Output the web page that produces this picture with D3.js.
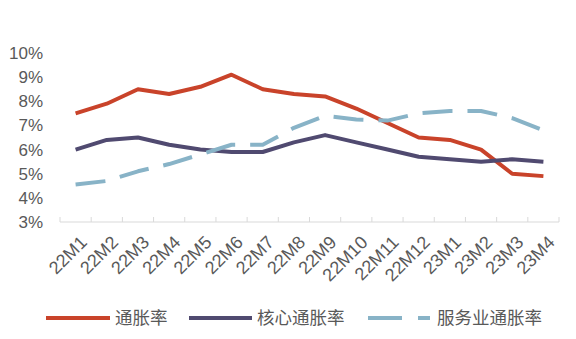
<!DOCTYPE html>
<html><head><meta charset="utf-8">
<script src="https://cdn.jsdelivr.net/npm/d3@7"></script>
<style>body{margin:0;background:#fff}text{font-family:"Liberation Sans",Arial,"Noto Sans CJK SC",sans-serif;fill:#595959}</style>
</head><body><svg id="c" width="576" height="339"></svg>
<script>
const categories=["22M1","22M2","22M3","22M4","22M5","22M6","22M7","22M8","22M9","22M10","22M11","22M12","23M1","23M2","23M3","23M4"];
const inflation=[7.5,7.9,8.5,8.3,8.6,9.1,8.5,8.3,8.2,7.7,7.1,6.5,6.4,6.0,5.0,4.9];
const core=[6.0,6.4,6.5,6.2,6.0,5.9,5.9,6.3,6.6,6.3,6.0,5.7,5.6,5.5,5.6,5.5];
const services=[4.55,4.7,5.1,5.4,5.8,6.2,6.2,6.9,7.4,7.25,7.2,7.5,7.6,7.6,7.3,6.8];
const yTicks=[3,4,5,6,7,8,9,10];
const seriesNames=["通胀率","核心通胀率","服务业通胀率"];
const colors=["#C9432A","#504A70","#88B3C7"];

const svg=d3.select("#c");
const x=d3.scaleBand().domain(categories).range([60,559]);
const y=d3.scaleLinear().domain([3,10]).range([222,53]);

// y labels
svg.append("g").selectAll("text").data(yTicks).join("text")
 .attr("x",43).attr("y",d=>y(d)).attr("dy","0.35em").attr("text-anchor","end")
 .style("font-size","17px").text(d=>d+"%");

// x axis
const ax=svg.append("g");
ax.append("line").attr("x1",60).attr("x2",559).attr("y1",222).attr("y2",222).attr("stroke","#d9d9d9").attr("stroke-width",1);
const tickPos=categories.map(c=>x(c)).concat([559]);
ax.selectAll(".tk").data(tickPos).join("line").attr("class","tk")
 .attr("x1",d=>d).attr("x2",d=>d).attr("y1",217).attr("y2",222).attr("stroke","#d9d9d9");
ax.selectAll(".lb").data(categories).join("text").attr("class","lb")
 .attr("transform",d=>`translate(${x(d)+x.bandwidth()/2+8},239) rotate(-45)`)
 .attr("text-anchor","end").attr("dy","0.35em").style("font-size","18px").text(d=>d);

const line=d3.line().x((d,i)=>x(categories[i])+x.bandwidth()/2).y(d=>y(d));
const data=[inflation,core,services];
data.forEach((s,k)=>{
  svg.append("path").attr("d",line(s)).attr("fill","none").attr("stroke",colors[k])
   .attr("stroke-width",4).attr("stroke-linejoin","round")
   .attr("stroke-dasharray",k===2?"30,15":null);
});

// legend
const leg=[{x1:46,x2:110,tx:115},{x1:189,x2:252,tx:257},{x1:368,x2:430,tx:437}];
leg.forEach((l,k)=>{
  svg.append("line").attr("x1",l.x1).attr("x2",l.x2).attr("y1",318).attr("y2",318)
   .attr("stroke",colors[k]).attr("stroke-width",4).attr("stroke-dasharray",k===2?"34,16":null);
  svg.append("text").attr("x",l.tx).attr("y",318).attr("dy","0.35em").style("font-size","17.5px").text(seriesNames[k]);
});
</script></body></html>
